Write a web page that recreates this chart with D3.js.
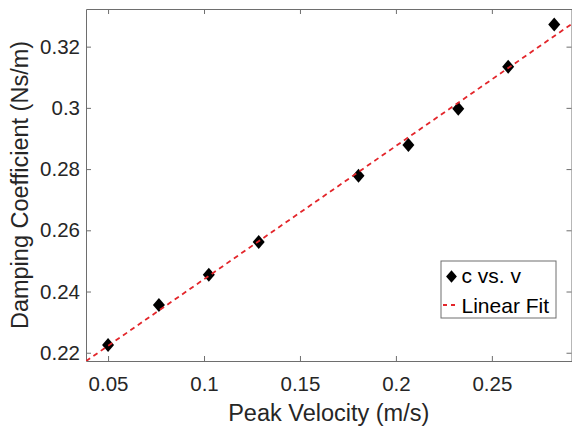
<!DOCTYPE html>
<html>
<head>
<meta charset="utf-8">
<script src="https://cdn.jsdelivr.net/npm/d3@7/dist/d3.min.js"></script>
<style>
  body { margin: 0; background: #fff; }
  svg { display: block; font-family: "Liberation Sans", Arial, sans-serif; }
  .axis path, .axis line { stroke: #6e6e6e; stroke-width: 1; }
  .axis text { fill: #262626; font-size: 20.5px; }
</style>
</head>
<body>
<div class="plotWin"></div>
<script>
// peak velocity (m/s) vs damping coefficient (Ns/m)
var velocity = [0.050, 0.0765, 0.1025, 0.1285, 0.1805, 0.2065, 0.2325, 0.2585, 0.2825];
var damping = [0.2225, 0.2356, 0.2455, 0.2562, 0.2778, 0.2879, 0.2997, 0.3134, 0.3272];
var fitSlope = 0.4352,
	fitIntercept = 0.2005;
var xTicks = [0.05, 0.1, 0.15, 0.2, 0.25];
var yTicks = [0.22, 0.24, 0.26, 0.28, 0.3, 0.32];
var xLimits = [0.0385, 0.2915];
var yLimits = [0.2173, 0.3323];
var legendLabels = ["c vs. v", "Linear Fit"];

var SVG_WIDTH = 572,
	SVG_HEIGHT = 431,
	LEFT = 86,
	RIGHT = 571.5,
	TOP = 9,
	BOTTOM = 361,
	TICK = 5,
	FIT_COLOR = "#e3262b";

var svg = d3.select(".plotWin")
	.append("svg")
		.attr("width", SVG_WIDTH)
		.attr("height", SVG_HEIGHT);

var x = d3.scaleLinear().domain(xLimits).range([LEFT, RIGHT]);
var y = d3.scaleLinear().domain(yLimits).range([BOTTOM, TOP]);

function fmt(d) { return String(+d.toFixed(3)); }

// axes, ticks pointing inward, box on
svg.append("g")
	.attr("class", "axis")
	.attr("transform", "translate(0," + BOTTOM + ")")
	.call(d3.axisBottom(x).tickValues(xTicks).tickSizeInner(-TICK).tickSizeOuter(0).tickPadding(15).tickFormat(fmt));

svg.append("g")
	.attr("class", "axis")
	.attr("transform", "translate(0," + TOP + ")")
	.call(d3.axisTop(x).tickValues(xTicks).tickSizeInner(-TICK).tickSizeOuter(0).tickFormat(""));

svg.append("g")
	.attr("class", "axis")
	.attr("transform", "translate(" + LEFT + ",0)")
	.call(d3.axisLeft(y).tickValues(yTicks).tickSizeInner(-TICK).tickSizeOuter(0).tickPadding(6).tickFormat(fmt));

svg.append("g")
	.attr("class", "axis")
	.attr("transform", "translate(" + RIGHT + ",0)")
	.call(d3.axisRight(y).tickValues(yTicks).tickSizeInner(-TICK).tickSizeOuter(0).tickFormat(""));

// axis labels
svg.append("text")
	.attr("x", (LEFT + RIGHT) / 2)
	.attr("y", 420.5)
	.attr("text-anchor", "middle")
	.attr("font-size", "23.5px")
	.attr("fill", "#262626")
	.text("Peak Velocity (m/s)");

svg.append("text")
	.attr("transform", "translate(28," + ((TOP + BOTTOM) / 2) + ") rotate(-90)")
	.attr("text-anchor", "middle")
	.attr("font-size", "23.5px")
	.attr("fill", "#262626")
	.text("Damping Coefficient (Ns/m)");

// clip to the plot box
svg.append("clipPath")
	.attr("id", "plotClip")
	.append("rect")
		.attr("x", LEFT)
		.attr("y", TOP)
		.attr("width", RIGHT - LEFT)
		.attr("height", BOTTOM - TOP);

var plot = svg.append("g").attr("clip-path", "url(#plotClip)");

var diamond = "M0,-7L6,0L0,7L-6,0Z";

var points = velocity.map(function(v, i) { return {v: v, c: damping[i]}; });

plot.selectAll("path.pt")
	.data(points)
	.enter()
	.append("path")
		.attr("class", "pt")
		.attr("d", diamond)
		.attr("transform", function(d) { return "translate(" + x(d.v) + "," + y(d.c) + ")"; })
		.attr("fill", "#000");

// linear fit across the full x range
var fitLine = d3.line()
	.x(function(v) { return x(v); })
	.y(function(v) { return y(fitSlope * v + fitIntercept); });

plot.append("path")
	.datum(xLimits)
	.attr("d", fitLine)
	.attr("fill", "none")
	.attr("stroke", FIT_COLOR)
	.attr("stroke-width", 1.8)
	.attr("stroke-dasharray", "5,4");

// legend
var legend = svg.append("g").attr("transform", "translate(441,261)");

legend.append("rect")
	.attr("width", 115)
	.attr("height", 57)
	.attr("fill", "#fff")
	.attr("stroke", "#6e6e6e")
	.attr("stroke-width", 1);

legend.append("path")
	.attr("d", diamond)
	.attr("transform", "translate(10.5,15.5) scale(0.9)")
	.attr("fill", "#000");

legend.append("line")
	.attr("x1", 2)
	.attr("x2", 16)
	.attr("y1", 44)
	.attr("y2", 44)
	.attr("stroke", FIT_COLOR)
	.attr("stroke-width", 1.8)
	.attr("stroke-dasharray", "4,4");

legend.selectAll("text")
	.data(legendLabels)
	.enter()
	.append("text")
		.attr("x", 20.5)
		.attr("y", function(d, i) { return 22 + i * 29.5; })
		.attr("font-size", "21px")
		.attr("fill", "#000")
		.text(function(d) { return d; });
</script>
</body>
</html>
